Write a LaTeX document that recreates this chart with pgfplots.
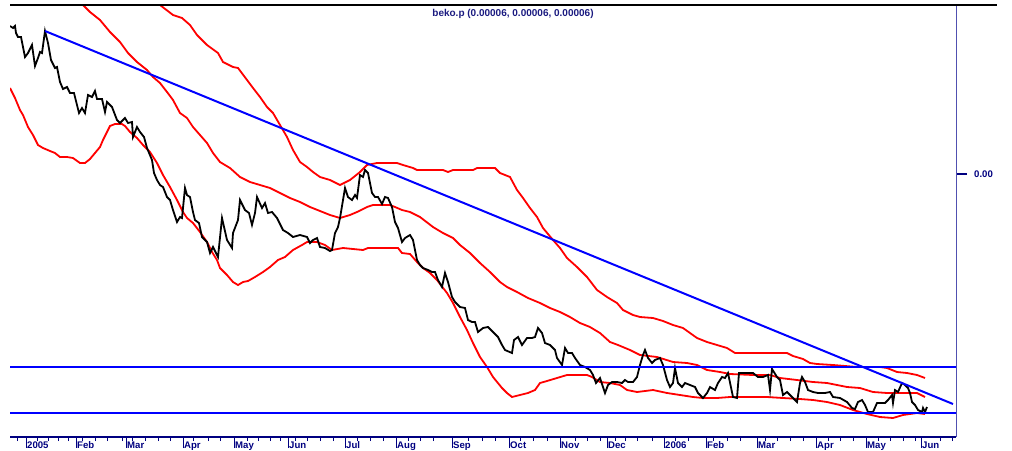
\documentclass[border=0pt]{standalone}
\usepackage{fontspec}
\setmainfont{Liberation Sans}
\usepackage{pgfplots}
\pgfplotsset{compat=1.18}
\definecolor{navy}{HTML}{000080}
\definecolor{axblue}{HTML}{5050B0}
\definecolor{titlecol}{HTML}{1A1A80}
\begin{document}
\begin{tikzpicture}
\useasboundingbox (0,0) rectangle (1012pt,450pt);
\begin{axis}[
  name=ax,
  at={(10pt,13pt)}, anchor=south west,
  scale only axis, width=946pt, height=432pt,
  xmin=10, xmax=956, ymin=5, ymax=437, y dir=reverse,
  axis x line*=bottom, axis y line*=right,
  x axis line style={navy, line width=1.2pt, -},
  y axis line style={axblue, line width=0.8pt, -},
  xtick={26,76,126,183,234,288,345,396,452,509,560,607,664,706,757,816,866,921},
  xticklabels={2005,Feb,Mar,Apr,May,Jun,Jul,Aug,Sep,Oct,Nov,Dec,2006,Feb,Mar,Apr,May,Jun},
  minor xtick={17,37,48,58,68,82,95,107,122,132,145,158,170,193,208,220,247,258,270,280,295,307,320,333,357,370,383,408,420,433,468,482,495,520,533,547,575,587,600,615,625,637,652,675,688,713,727,740,765,777,790,803,828,840,853,878,890,903,915,940,952},
  tick align=outside,
  major tick length=11pt, minor tick length=4pt,
  xtick style={navy, line width=1pt},
  minor tick style={navy, line width=1pt},
  xticklabel style={anchor=north west, inner sep=0pt, font=\fontsize{9.6}{11}\selectfont\bfseries, text=navy, xshift=1pt, yshift=6.5pt},
  ytick={174}, yticklabels={0.00},
  ytick style={navy, line width=2pt},
  yticklabel style={anchor=west, inner sep=0pt, font=\fontsize{9.6}{11}\selectfont\bfseries, text=navy, xshift=7pt},
  clip=true,
]
% upper band
\addplot[red, line width=1.8pt] coordinates {
(157,2) (160,5) (173,15) (182,18) (190,25) (197,35) (207,45) (218,53) (223,62) (233,67) (238,68) (247,80) (253,88) (260,97) (267,107) (273,113) (280,125) (287,137) (293,150) (300,162) (307,167) (313,172) (320,177) (330,180) (340,185) (350,180) (360,172) (367,165) (377,163) (390,163) (397,163) (403,165) (413,168) (417,170) (443,170) (448,172) (453,170) (473,170) (477,168) (495,168) (500,173) (510,177) (517,190) (523,198) (530,208) (537,217) (543,228) (553,240) (560,248) (567,258) (577,267) (587,277) (597,290) (607,297) (617,303) (623,310) (633,315) (640,317) (653,318) (663,321) (673,325) (683,328) (690,333) (697,338) (707,342) (717,345) (727,348) (735,353) (787,353) (793,356) (803,359) (810,363) (817,364) (833,365) (857,367) (880,367) (887,368) (897,372) (907,373) (917,375) (925,378)
};
% middle
\addplot[red, line width=1.8pt] coordinates {
(81,2) (83,5) (90,12) (100,20) (110,32) (120,42) (128,53) (137,62) (147,70) (153,77) (160,83) (167,92) (173,100) (180,113) (187,118) (193,127) (200,135) (207,143) (213,153) (220,162) (230,168) (240,177) (250,182) (260,185) (270,188) (280,193) (290,198) (300,202) (310,207) (320,211) (330,215) (340,218) (350,215) (357,212) (367,207) (373,205) (390,205) (395,207) (402,210) (410,212) (420,217) (433,227) (443,233) (453,238) (460,245) (470,253) (480,263) (490,272) (500,282) (507,287) (517,292) (528,298) (540,303) (550,308) (560,312) (570,317) (580,323) (590,327) (600,333) (610,342) (618,345) (630,350) (640,355) (657,357) (673,362) (687,363) (697,365) (707,370) (720,372) (730,374) (753,375) (770,375) (780,378) (797,380) (813,382) (827,383) (847,387) (860,388) (873,392) (887,393) (897,393) (910,393) (917,393) (925,397)
};
% lower
\addplot[red, line width=1.8pt] coordinates {
(10,88) (12,92) (15,98) (20,110) (23,115) (28,127) (33,135) (38,145) (43,148) (50,151) (55,153) (60,157) (67,157) (73,158) (80,163) (85,163) (90,159) (95,153) (100,147) (103,140) (107,132) (110,126) (115,124) (122,124) (125,126) (130,132) (137,138) (143,145) (150,152) (157,163) (163,175) (170,187) (177,200) (183,212) (187,218) (193,223) (200,232) (207,242) (212,252) (217,260) (220,268) (227,275) (233,282) (238,285) (243,282) (248,281) (255,277) (263,272) (270,267) (278,260) (285,257) (293,250) (302,245) (307,242) (317,242) (325,245) (332,250) (343,248) (363,250) (368,248) (398,248) (402,253) (410,254) (417,262) (423,268) (430,273) (437,280) (447,293) (453,303) (460,317) (467,330) (473,343) (480,357) (487,367) (493,377) (502,388) (507,393) (512,397) (520,395) (528,393) (535,390) (540,383) (547,381) (557,378) (567,375) (587,375) (592,377) (600,382) (610,383) (620,385) (627,390) (637,392) (653,390) (667,393) (680,395) (693,397) (703,398) (717,398) (730,397) (750,397) (767,397) (783,398) (800,399) (813,400) (827,402) (840,405) (853,410) (867,414) (880,417) (893,418) (903,415) (917,413) (925,414)
};
% price
\addplot[black, line width=1.8pt] coordinates {
(10,26) (13,28) (15,26) (16,33) (18,37) (21,37) (25,57) (28,53) (32,45) (35,66) (38,58) (40,52) (42,53) (45,31) (48,43) (51,60) (55,68) (57,67) (60,82) (63,89) (67,87) (70,93) (74,93) (79,113) (82,108) (85,113) (88,95) (92,97) (95,91) (97,99) (102,99) (105,112) (107,102) (112,107) (117,120) (120,123) (125,118) (128,123) (132,122) (133,137) (137,127) (140,132) (144,137) (147,148) (152,160) (154,173) (157,180) (160,185) (163,187) (167,197) (170,200) (173,210) (177,222) (180,217) (182,218) (185,188) (187,195) (190,197) (193,212) (195,220) (199,223) (202,237) (207,242) (210,253) (213,247) (218,257) (222,218) (227,240) (232,248) (233,233) (238,220) (240,200) (245,210) (249,213) (252,225) (255,213) (257,197) (262,208) (265,203) (268,213) (272,212) (277,218) (283,230) (288,233) (293,237) (300,235) (307,237) (310,243) (313,240) (317,238) (320,247) (325,248) (330,251) (332,250) (335,233) (338,227) (340,218) (345,188) (348,197) (352,200) (355,195) (357,198) (360,175) (363,177) (365,170) (368,173) (372,193) (375,197) (378,197) (382,204) (385,197) (388,198) (392,207) (395,222) (398,228) (402,242) (405,238) (410,235) (413,240) (417,260) (420,265) (423,268) (428,270) (432,272) (435,272) (438,280) (442,287) (445,273) (448,282) (452,297) (455,302) (460,307) (465,308) (468,320) (472,322) (475,322) (478,332) (483,328) (488,327) (493,332) (498,337) (502,345) (505,350) (512,353) (514,340) (518,337) (522,345) (527,338) (532,338) (535,337) (538,328) (542,333) (545,343) (550,345) (555,350) (557,358) (562,365) (565,348) (568,353) (572,353) (575,358) (580,365) (585,367) (590,370) (593,375) (596,383) (600,378) (605,393) (608,385) (612,382) (617,382) (622,383) (625,380) (628,382) (633,382) (637,377) (640,365) (643,355) (645,350) (648,358) (652,363) (655,360) (660,358) (663,365) (667,380) (670,387) (673,383) (675,368) (678,383) (682,387) (685,383) (690,385) (695,387) (698,393) (703,398) (707,393) (710,387) (715,390) (718,383) (722,377) (725,378) (728,373) (733,397) (737,398) (739,373) (745,373) (753,373) (758,377) (763,377) (768,375) (770,390) (772,369) (777,377) (780,380) (783,395) (787,392) (792,397) (797,402) (800,383) (802,377) (805,382) (808,390) (813,392) (818,393) (825,393) (830,392) (833,397) (840,398) (847,402) (852,408) (855,409) (858,402) (862,400) (865,405) (868,412) (873,412) (877,403) (880,403) (885,403) (888,400) (892,395) (893,403) (895,390) (898,392) (902,383) (905,385) (908,388) (910,393) (912,402) (915,405) (918,410) (922,412) (923,408) (925,412) (927,407)
};
% trend and support lines
\addplot[blue, line width=2pt] coordinates {(45,31) (953,404)};
\addplot[blue, line width=2pt] coordinates {(10,367) (956,367)};
\addplot[blue, line width=2pt] coordinates {(10,412.5) (956,412.5)};
\node[font=\fontsize{10}{12}\selectfont\bfseries, text=titlecol] at (axis cs:513,13.5) {beko.p (0.00006, 0.00006, 0.00006)};
\end{axis}
\draw[black, line width=2pt] (ax.north west) -- ++(987pt,0);
\end{tikzpicture}
\end{document}
